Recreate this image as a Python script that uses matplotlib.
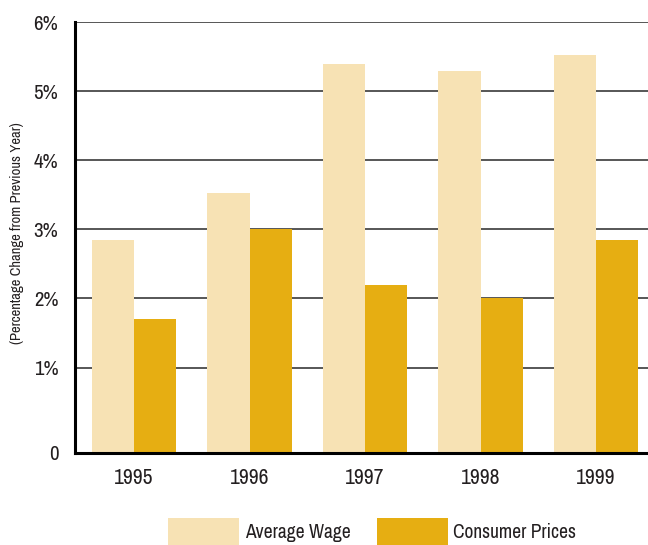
import matplotlib
matplotlib.use("Agg")
import matplotlib.pyplot as plt
from matplotlib.patches import Rectangle
from matplotlib import font_manager
import numpy as np

years = ["1995", "1996", "1997", "1998", "1999"]
average_wage = [2.85, 3.52, 5.39, 5.29, 5.52]
consumer_prices = [1.70, 3.00, 2.20, 2.00, 2.84]
series_names = ["Average Wage", "Consumer Prices"]
ytick_values = [1, 2, 3, 4, 5, 6]
ytick_labels = ["1%", "2%", "3%", "4%", "5%", "6%"]
y_axis_title = "(Percentage Change from Previous Year)"

wage_color = "#F7E2B4"
cpi_color = "#E6AE12"
text_color = "#231f20"

# pick a narrow face if one is installed
fonts = font_manager.fontManager.ttflist
narrow = [f for f in fonts if "Narrow" in f.name or "Condensed" in f.name]
stretched = [f for f in fonts if str(f.stretch) in ("condensed", "semi-condensed", "extra-condensed")
             or (isinstance(f.stretch, int) and f.stretch < 500)]
font_kw = {}
if narrow:
    plt.rcParams["font.family"] = [narrow[0].name, "DejaVu Sans"]
elif stretched:
    plt.rcParams["font.family"] = [stretched[0].name, "DejaVu Sans"]
    font_kw["fontstretch"] = stretched[0].stretch
    plt.rcParams["font.stretch"] = stretched[0].stretch
else:
    plt.rcParams["font.family"] = ["DejaVu Sans"]

W, H = 648, 545
fig = plt.figure(figsize=(W / 100, H / 100), dpi=100)
ax_left, ax_right, ax_top, ax_bottom = 75, 648, 22, 453
ax = fig.add_axes([ax_left / W, 1 - ax_bottom / H, (ax_right - ax_left) / W, (ax_bottom - ax_top) / H])

base = -0.237
x = np.arange(len(years))
bw = 0.364
ax.bar(x - bw / 2, np.array(average_wage) - base, bw, bottom=base, color=wage_color, zorder=3, linewidth=0)
ax.bar(x + bw / 2, np.array(consumer_prices) - base, bw, bottom=base, color=cpi_color, zorder=3, linewidth=0)

for v in ytick_values:
    ax.axhline(v, color="#3a3a3a", lw=1.2, zorder=1)

ax.set_ylim(base, 6)
ax.set_xlim(-0.511, len(years) - 1 + 0.45)

ax.set_yticks([base] + ytick_values)
ax.set_yticklabels(["0"] + ytick_labels, fontsize=15, color=text_color, **font_kw)
ax.set_xticks(x)
ax.set_xticklabels(years, fontsize=15.5, color=text_color, **font_kw)
ax.tick_params(axis="y", length=0, pad=12)
ax.tick_params(axis="x", length=0, pad=11)

for s in ["top", "right"]:
    ax.spines[s].set_visible(False)
for s in ["left", "bottom"]:
    ax.spines[s].set_linewidth(2.2)
    ax.spines[s].set_color("black")
    ax.spines[s].set_zorder(4)

fig.text(17 / W, 1 - 233 / H, y_axis_title, rotation=90, ha="center", va="center",
         fontsize=10.5, color=text_color, **font_kw)

# legend along the bottom edge
legend_items = [(168, 239, wage_color, 245), (377, 448, cpi_color, 453)]
for (x0, x1, col, tx), name in zip(legend_items, series_names):
    fig.add_artist(Rectangle((x0 / W, 0), (x1 - x0) / W, (545 - 518) / H,
                             transform=fig.transFigure, color=col, lw=0))
    fig.text(tx / W, 1 - 533 / H, name, ha="left", va="center", fontsize=14,
             color=text_color, **font_kw)

fig.savefig("out.png", dpi=100)
